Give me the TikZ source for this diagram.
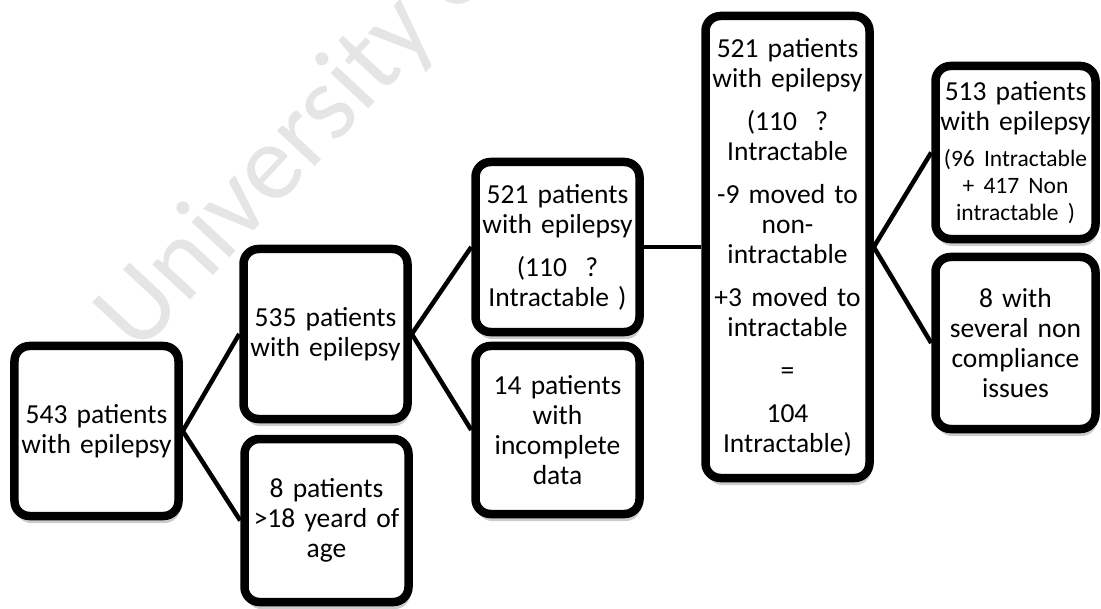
\documentclass[tikz,border=0pt]{standalone}
\usepackage{fontspec}
\setmainfont{Carlito}
\usetikzlibrary{shadows}
\newcommand{\mainsize}{\fontsize{27.5bp}{30bp}\selectfont}
\newcommand{\smallsize}{\fontsize{23.5bp}{27bp}\selectfont}
\newcommand{\pgap}{\\[13bp]}
\tikzset{
  box/.style={draw=black, line width=8.5bp, rounded corners=15bp, fill=white,
    minimum width=164bp, minimum height=170bp, text width=158bp,
    align=center, inner sep=0pt, font=\mainsize,
    drop shadow={shadow xshift=1.5bp, shadow yshift=-7bp, opacity=0.2, fill=black}},
  link/.style={line width=4.5bp, draw=black},
  watermark/.style={font=\fontsize{108bp}{108bp}\selectfont, text=black!10, inner sep=0pt}
}
\begin{document}
\begin{tikzpicture}[x=1bp,y=-1bp]
\useasboundingbox (0,0) rectangle (1101,609);
\fill[white] (0,0) rectangle (1101,609);
\begin{scope}
  \clip (0,0) rectangle (1101,609);
  \node[watermark, rotate=47, anchor=base west] (wm) at (138,356) {University of};
\end{scope}

\node[box] (a) at (96.5,431) {543 patients\\with epilepsy};
\node[box] (b) at (325.5,334) {535 patients\\with epilepsy};
\node[box, minimum height=163bp] (c) at (326.5,520.5) {8 patients\\>18 yeard of\\age};
\node[box] (d) at (557.5,247) {521 patients\\with epilepsy\pgap(110\ \ ?\\Intractable )};
\node[box, minimum height=168bp] (e) at (557.5,430) {14 patients\\with\\incomplete\\data};
\node[box, minimum height=462bp] (f) at (787.5,247) {521 patients\\with epilepsy\pgap(110\ \ ?\\Intractable\pgap-9 moved to\\non-\\intractable\pgap+3 moved to\\intractable\pgap=\pgap104\\Intractable)};
\node[box, minimum width=160bp, text width=154bp, minimum height=173bp] (g) at (1015.5,152.5) {513 patients\\with epilepsy\par\vspace{9bp}{\smallsize (96 Intractable\\+ 417 Non\\intractable )\par}};
\node[box, minimum width=160bp, text width=154bp, minimum height=172bp] (h) at (1015.5,343) {8 with\\several non\\compliance\\issues};

\draw[link] (a.east) -- (b.west);
\draw[link] (a.east) -- (c.west);
\draw[link] (b.east) -- (d.west);
\draw[link] (b.east) -- (e.west);
\draw[link] (d.east) -- (f.west);
\draw[link] (f.east) -- (g.west);
\draw[link] (f.east) -- (h.west);
\end{tikzpicture}
\end{document}
